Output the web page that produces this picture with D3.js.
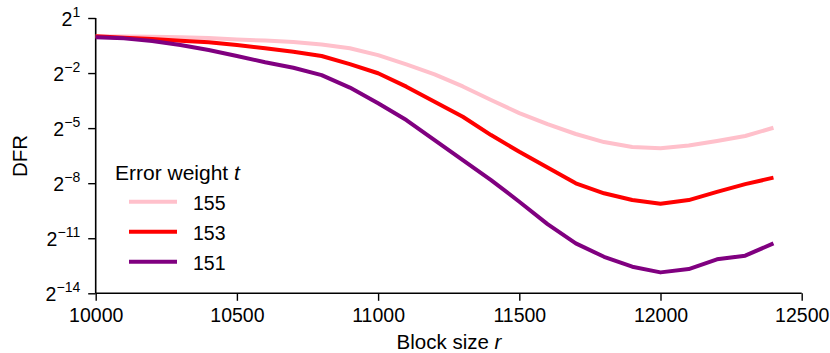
<!DOCTYPE html>
<html>
<head>
<meta charset="utf-8">
<script src="https://cdn.jsdelivr.net/npm/d3@7"></script>
<style>
  body { margin: 0; background: #fff; }
  svg text { font-family: "Liberation Sans", Arial, sans-serif; fill: #000; }
</style>
</head>
<body>
<div id="chart"></div>
<script>

// block sizes r
var blockSizes = [10000, 10100, 10200, 10300, 10400, 10500, 10600, 10700, 10800, 10900,
                  11000, 11100, 11200, 11300, 11400, 11500, 11600, 11700, 11800, 11900,
                  12000, 12100, 12200, 12300, 12400];

// log2 of DFR
var log2Dfr155 = [0.0, -0.01, -0.02, -0.05, -0.09, -0.17, -0.23, -0.31, -0.44, -0.65,
                  -1.02, -1.53, -2.07, -2.73, -3.47, -4.18, -4.78, -5.32, -5.76, -6.03,
                  -6.10, -5.95, -5.70, -5.43, -4.98];
var log2Dfr153 = [0.0, -0.07, -0.14, -0.24, -0.32, -0.47, -0.65, -0.84, -1.07, -1.51,
                  -2.01, -2.74, -3.56, -4.38, -5.38, -6.29, -7.15, -8.01, -8.55, -8.92,
                  -9.12, -8.92, -8.47, -8.05, -7.70];
var log2Dfr151 = [-0.05, -0.11, -0.25, -0.47, -0.74, -1.07, -1.41, -1.71, -2.11, -2.79,
                  -3.65, -4.56, -5.65, -6.74, -7.83, -9.01, -10.23, -11.28, -12.01, -12.55,
                  -12.86, -12.68, -12.15, -11.95, -11.28];

var weights = ['155', '153', '151'];
var colors = ['#FFC0CB', '#FF0000', '#800080'];
var seriesLog2 = [log2Dfr155, log2Dfr153, log2Dfr151];

var xTicks = [10000, 10500, 11000, 11500, 12000, 12500];
var yTickExps = [1, -2, -5, -8, -11, -14];

var svgWidth = 830;
var svgHeight = 353;
var plotLeft = 95.7, plotTop = 18, plotRight = 801.7, plotBottom = 293.3;

var xScale = d3.scaleLinear()
    .domain([10000, 12500])
    .range([plotLeft, plotRight]);

var yScale = d3.scaleLog()
    .base(2)
    .domain([Math.pow(2, -14), Math.pow(2, 1)])
    .range([plotBottom, plotTop]);

var svg = d3.select("#chart").append("svg")
    .attr("width", svgWidth)
    .attr("height", svgHeight);

// axes
var xAxis = d3.axisBottom(xScale)
    .tickValues(xTicks)
    .tickSize(7.5)
    .tickPadding(7)
    .tickFormat(d3.format("d"));

var yAxis = d3.axisLeft(yScale)
    .tickValues(yTickExps.map(function(e){ return Math.pow(2, e); }))
    .tickSize(7.5)
    .tickPadding(8);

var gx = svg.append("g")
    .attr("transform", "translate(0," + plotBottom + ")")
    .call(xAxis);

var gy = svg.append("g")
    .attr("transform", "translate(" + plotLeft + ",0)")
    .call(yAxis);

[gx, gy].forEach(function(g){
    g.select(".domain").attr("stroke", "#000").attr("stroke-width", 1.6);
    g.selectAll(".tick line").attr("stroke", "#000").attr("stroke-width", 1.4);
});

// spines without the end ticks
gx.select(".domain").attr("d", "M" + plotLeft + ",0H" + plotRight);
gy.select(".domain").attr("d", "M0," + plotTop + "V" + plotBottom);

gx.selectAll(".tick text")
    .attr("font-size", 19.5)
    .attr("dy", "0.71em")
    .attr("font-family", "Liberation Sans, Arial, sans-serif");

// y tick labels as powers of two
gy.selectAll(".tick text").each(function(d){
    var e = Math.round(Math.log2(d));
    var t = d3.select(this);
    t.text(null)
        .attr("font-size", 19.5)
        .attr("dy", "0.36em")
        .attr("font-family", "Liberation Sans, Arial, sans-serif");
    t.append("tspan").text("2");
    t.append("tspan")
        .attr("font-size", 14)
        .attr("dy", "-0.6em")
        .text(e < 0 ? "\u2212" + (-e) : String(e));
});

// lines
var line = d3.line()
    .x(function(d){ return xScale(d[0]); })
    .y(function(d){ return yScale(d[1]); });

seriesLog2.forEach(function(vals, k){
    var pts = blockSizes.map(function(r, i){ return [r, Math.pow(2, vals[i])]; });
    svg.append("path")
        .datum(pts)
        .attr("fill", "none")
        .attr("stroke", colors[k])
        .attr("stroke-width", 4)
        .attr("stroke-linejoin", "round")
        .attr("d", line);
});

// axis titles
var xt = svg.append("text")
    .attr("x", 449)
    .attr("y", 349)
    .attr("text-anchor", "middle")
    .attr("font-size", 20.5);
xt.append("tspan").text("Block size ");
xt.append("tspan").attr("font-style", "italic").text("r");

svg.append("text")
    .attr("transform", "translate(27,156) rotate(-90)")
    .attr("text-anchor", "middle")
    .attr("font-size", 20.5)
    .text("DFR");

// legend
var legendTitle = svg.append("text")
    .attr("x", 115)
    .attr("y", 180)
    .attr("font-size", 21);
legendTitle.append("tspan").text("Error weight ");
legendTitle.append("tspan").attr("font-style", "italic").text("t");

weights.forEach(function(w, k){
    var ly = 201.7 + k * 30;
    svg.append("line")
        .attr("x1", 129).attr("x2", 177)
        .attr("y1", ly).attr("y2", ly)
        .attr("stroke", colors[k])
        .attr("stroke-width", 4);
    svg.append("text")
        .attr("x", 193)
        .attr("y", ly + 8)
        .attr("font-size", 19.5)
        .text(w);
});

</script>
</body>
</html>
